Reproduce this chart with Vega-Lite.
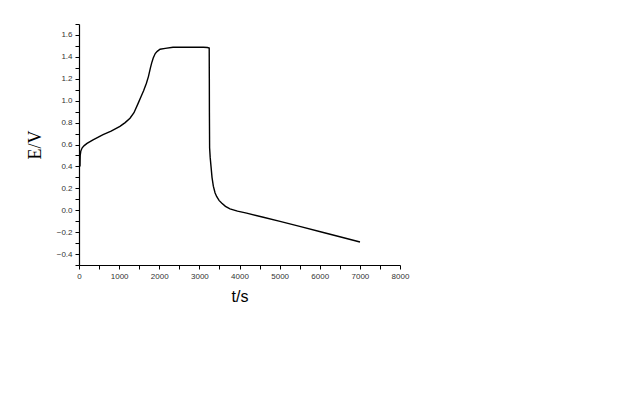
{
  "$schema": "https://vega.github.io/schema/vega-lite/v6.json",
  "autosize": "none",
  "width": 321,
  "height": 241,
  "padding": {"left": 79, "top": 24, "right": 240, "bottom": 135},
  "background": "white",
  "config": {"view": {"stroke": null}},
  "data": {"values": [
    {"t": 25, "E": 0.40}, {"t": 27, "E": 0.45}, {"t": 30, "E": 0.50}, {"t": 45, "E": 0.54},
    {"t": 80, "E": 0.57}, {"t": 130, "E": 0.59}, {"t": 200, "E": 0.61}, {"t": 350, "E": 0.643},
    {"t": 600, "E": 0.69}, {"t": 800, "E": 0.722}, {"t": 1020, "E": 0.765}, {"t": 1150, "E": 0.80},
    {"t": 1271, "E": 0.84}, {"t": 1370, "E": 0.89}, {"t": 1479, "E": 0.98}, {"t": 1550, "E": 1.04},
    {"t": 1610, "E": 1.09}, {"t": 1680, "E": 1.16}, {"t": 1730, "E": 1.22}, {"t": 1780, "E": 1.30},
    {"t": 1812, "E": 1.345}, {"t": 1850, "E": 1.39}, {"t": 1900, "E": 1.43}, {"t": 1950, "E": 1.45},
    {"t": 2020, "E": 1.47}, {"t": 2150, "E": 1.478}, {"t": 2343, "E": 1.488}, {"t": 2700, "E": 1.488},
    {"t": 3100, "E": 1.488}, {"t": 3200, "E": 1.485}, {"t": 3245, "E": 1.48}, {"t": 3248, "E": 1.2},
    {"t": 3250, "E": 0.9}, {"t": 3255, "E": 0.57}, {"t": 3270, "E": 0.48}, {"t": 3290, "E": 0.40},
    {"t": 3315, "E": 0.30}, {"t": 3348, "E": 0.22}, {"t": 3390, "E": 0.16}, {"t": 3430, "E": 0.126},
    {"t": 3490, "E": 0.09}, {"t": 3554, "E": 0.066}, {"t": 3650, "E": 0.035}, {"t": 3763, "E": 0.013},
    {"t": 3950, "E": -0.008}, {"t": 4178, "E": -0.027}, {"t": 4594, "E": -0.064}, {"t": 5010, "E": -0.102},
    {"t": 5500, "E": -0.147}, {"t": 6089, "E": -0.203}, {"t": 6500, "E": -0.242}, {"t": 7003, "E": -0.29}
  ]},
  "mark": {"type": "line", "color": "black", "strokeWidth": 1.4, "clip": true},
  "encoding": {
    "x": {
      "field": "t", "type": "quantitative",
      "scale": {"domain": [0, 8000], "nice": false, "zero": false},
      "axis": {
        "title": "t/s",
        "titleFont": "Liberation Sans", "titleFontSize": 16, "titleFontWeight": "normal", "titleColor": "black",
        "titlePadding": 8,
        "values": [0,500,1000,1500,2000,2500,3000,3500,4000,4500,5000,5500,6000,6500,7000,7500,8000],
        "labelExpr": "datum.value % 1000 === 0 ? datum.value : ''",
        "labelFont": "Liberation Sans", "labelFontSize": 8, "labelColor": "#333",
        "labelPadding": 3, "labelFlush": false,
        "grid": false, "domainColor": "black", "domainWidth": 1.2, "tickColor": "black", "tickSize": 4, "tickWidth": 1
      }
    },
    "y": {
      "field": "E", "type": "quantitative",
      "scale": {"domain": [-0.5, 1.7], "nice": false, "zero": false},
      "axis": {
        "title": "E/V",
        "titleFont": "Liberation Serif", "titleFontSize": 18, "titleFontWeight": "normal", "titleColor": "black",
        "titlePadding": 12,
        "values": [-0.5,-0.4,-0.3,-0.2,-0.1,0,0.1,0.2,0.3,0.4,0.5,0.6,0.7,0.8,0.9,1.0,1.1,1.2,1.3,1.4,1.5,1.6,1.7],
        "labelExpr": "abs(round(datum.value*10)) % 2 === 0 && datum.value > -0.45 && datum.value < 1.65 ? format(datum.value, '.1f') : ''",
        "labelFont": "Liberation Sans", "labelFontSize": 8, "labelColor": "#333",
        "labelPadding": 3, "labelFlush": false,
        "grid": false, "domainColor": "black", "domainWidth": 1.2, "tickColor": "black", "tickSize": 4, "tickWidth": 1
      }
    }
  }
}
